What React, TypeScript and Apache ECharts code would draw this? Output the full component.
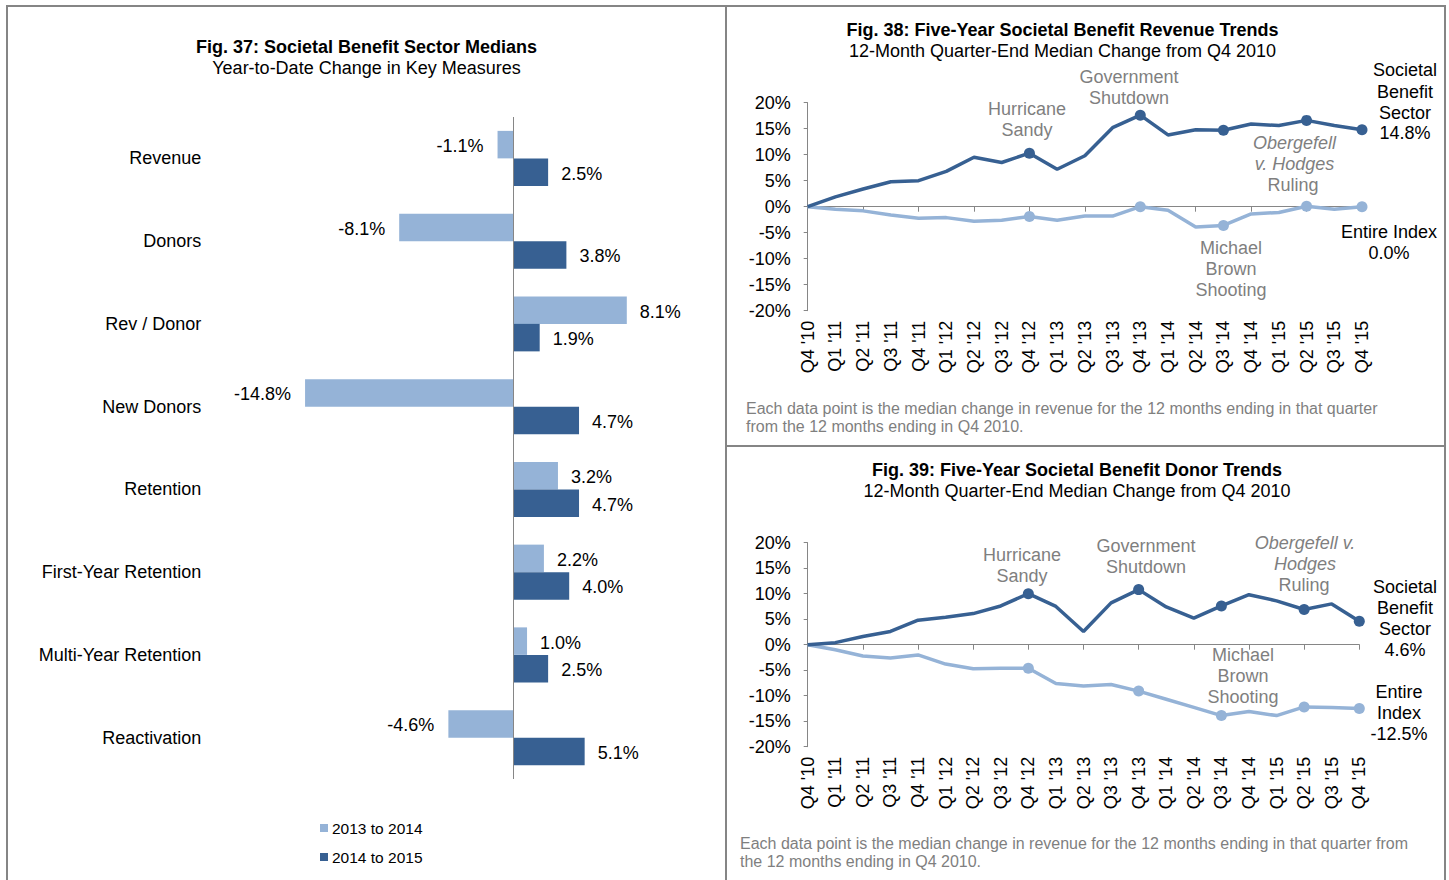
import { useEffect, useRef } from 'react';
import * as echarts from 'echarts';

// ---------- data ----------
const measures = [
  'Revenue',
  'Donors',
  'Rev / Donor',
  'New Donors',
  'Retention',
  'First-Year Retention',
  'Multi-Year Retention',
  'Reactivation',
];
const change2013to2014 = [-1.1, -8.1, 8.1, -14.8, 3.2, 2.2, 1.0, -4.6];
const change2014to2015 = [2.5, 3.8, 1.9, 4.7, 4.7, 4.0, 2.5, 5.1];
const barSeriesNames = ['2013 to 2014', '2014 to 2015'];

const quarters = [
  "Q4 '10", "Q1 '11", "Q2 '11", "Q3 '11", "Q4 '11",
  "Q1 '12", "Q2 '12", "Q3 '12", "Q4 '12",
  "Q1 '13", "Q2 '13", "Q3 '13", "Q4 '13",
  "Q1 '14", "Q2 '14", "Q3 '14", "Q4 '14",
  "Q1 '15", "Q2 '15", "Q3 '15", "Q4 '15",
];
const revenueSector = [0, 1.9, 3.4, 4.8, 5.0, 6.8, 9.5, 8.5, 10.3, 7.2, 9.8, 15.2, 17.6, 13.8, 14.8, 14.7, 15.9, 15.6, 16.6, 15.6, 14.8];
const revenueIndex = [0, -0.5, -0.8, -1.6, -2.2, -2.1, -2.8, -2.6, -1.9, -2.6, -1.8, -1.8, 0, -0.7, -3.9, -3.6, -1.4, -1.1, 0.1, -0.5, 0.0];
const donorSector = [0, 0.4, 1.6, 2.6, 4.8, 5.4, 6.1, 7.6, 10.0, 7.5, 2.6, 8.2, 10.8, 7.4, 5.2, 7.6, 9.8, 8.6, 6.9, 8.0, 4.6];
const donorIndex = [0, -1.0, -2.2, -2.6, -2.0, -3.8, -4.7, -4.6, -4.6, -7.6, -8.1, -7.8, -9.1, -10.7, -12.3, -13.9, -13.1, -13.9, -12.2, -12.3, -12.5];
const markedQuarters = ["Q4 '12", "Q4 '13", "Q3 '14", "Q2 '15", "Q4 '15"];
const lineAxisMin = -20;
const lineAxisMax = 20;
const lineAxisInterval = 5;

// ---------- styles ----------
const DARK = '#376092';
const LIGHT = '#95B3D7';
const AXIS = '#868686';
const NOTE = '#7f7f7f';
const BORDER = '#858585';
const FONT = '"Liberation Sans", Arial, Helvetica, sans-serif';

const withMarkers = (values: number[]) =>
  values.map((v, i) =>
    markedQuarters.includes(quarters[i])
      ? { value: v, symbol: 'circle', symbolSize: 11 }
      : { value: v, symbol: 'none' }
  );

const pct1 = (v: number) => `${v.toFixed(1)}%`;

const txt = (
  text: string,
  x: number,
  y: number,
  opts: { size?: number; weight?: string; color?: string; align?: string; italic?: boolean } = {}
) => ({
  type: 'text',
  x,
  y,
  silent: true,
  style: {
    text,
    fontFamily: FONT,
    fontSize: opts.size ?? 18,
    fontWeight: opts.weight ?? 'normal',
    fontStyle: opts.italic ? 'italic' : 'normal',
    fill: opts.color ?? '#000',
    align: opts.align ?? 'center',
    verticalAlign: 'middle',
  },
});

const ln = (x1: number, y1: number, x2: number, y2: number) => ({
  type: 'line',
  silent: true,
  shape: { x1, y1, x2, y2 },
  style: { stroke: BORDER, lineWidth: 2 },
});

function lineAxes(gridIndex: number) {
  const zeroAxis = {
    type: 'category',
    gridIndex,
    data: quarters,
    boundaryGap: false,
    position: 'bottom',
    axisLine: { show: true, onZero: true, lineStyle: { color: AXIS, width: 1 } },
    axisTick: { show: true, length: 5, lineStyle: { color: AXIS } },
    axisLabel: { show: false },
    splitLine: { show: false },
  };
  const labelAxis = {
    type: 'category',
    gridIndex,
    data: quarters,
    boundaryGap: false,
    position: 'bottom',
    axisLine: { show: false, onZero: false },
    axisTick: { show: false },
    axisLabel: { show: true, rotate: 90, margin: 10, fontSize: 18, color: '#000', fontFamily: FONT, interval: 0 },
    splitLine: { show: false },
  };
  const yAxis = {
    type: 'value',
    gridIndex,
    min: lineAxisMin,
    max: lineAxisMax,
    interval: lineAxisInterval,
    axisLine: { show: true, lineStyle: { color: AXIS, width: 1 } },
    axisTick: { show: true, length: 4, lineStyle: { color: AXIS } },
    axisLabel: { formatter: '{value}%', fontSize: 18, color: '#000', margin: 17, fontFamily: FONT },
    splitLine: { show: false },
  };
  return { zeroAxis, labelAxis, yAxis };
}

export default function App() {
  const ref = useRef<HTMLDivElement>(null);

  useEffect(() => {
    if (!ref.current) return;
    const chart = echarts.init(ref.current, undefined, { renderer: 'svg' });

    const a38 = lineAxes(1);
    const a39 = lineAxes(2);

    const lineSeries = (name: string, data: number[], color: string, x: number, y: number, z: number) => ({
      type: 'line',
      name,
      xAxisIndex: x,
      yAxisIndex: y,
      data: withMarkers(data),
      symbol: 'circle',
      symbolSize: 11,
      showSymbol: true,
      smooth: false,
      z,
      lineStyle: { color, width: 3.5 },
      itemStyle: { color },
      emphasis: { disabled: true },
    });

    const barLabel = (values: number[]) =>
      values.map((v) => ({
        value: v,
        label: { position: v < 0 ? 'left' : 'right', distance: v < 0 ? 14 : 13 },
      }));

    const last = quarters.length - 1;

    const barValueLabel = {
      show: true,
      formatter: (p: any) => pct1(p.value),
      fontSize: 18,
      color: '#000',
      fontFamily: FONT,
      offset: [0, 1.5],
    };

    const option = {
      animation: false,
      textStyle: { fontFamily: FONT },
      grid: [
        { left: 288.2, top: 117, width: 393.4, height: 662 },
        { left: 807.7, top: 102.7, width: 554.3, height: 208 },
        { left: 807.7, top: 542.7, width: 551.6, height: 204 },
      ],
      legend: {
        data: barSeriesNames,
        orient: 'vertical',
        left: 315,
        top: 815,
        icon: 'rect',
        itemWidth: 8,
        itemHeight: 8,
        itemGap: 13,
        selectedMode: false,
        textStyle: { fontSize: 15.5, color: '#000', fontFamily: FONT, padding: [0, 0, 0, -1] },
      },
      xAxis: [
        {
          type: 'value',
          gridIndex: 0,
          min: -16,
          max: 12,
          show: false,
          splitLine: { show: false },
        },
        a38.zeroAxis,
        a38.labelAxis,
        a39.zeroAxis,
        a39.labelAxis,
      ],
      yAxis: [
        {
          type: 'category',
          gridIndex: 0,
          data: measures,
          inverse: true,
          axisLine: { show: false, onZero: false },
          axisTick: { show: false },
          axisLabel: { margin: 87, fontSize: 18, color: '#000', fontFamily: FONT },
        },
        a38.yAxis,
        a39.yAxis,
      ],
      series: [
        {
          type: 'bar',
          name: barSeriesNames[0],
          xAxisIndex: 0,
          yAxisIndex: 0,
          data: barLabel(change2013to2014),
          barWidth: 27.5,
          barGap: '0%',
          itemStyle: { color: LIGHT },
          label: barValueLabel,
          markLine: {
            silent: true,
            symbol: ['none', 'none'],
            label: { show: false },
            lineStyle: { color: AXIS, width: 1, type: 'solid' },
            data: [{ xAxis: 0 }],
          },
          emphasis: { disabled: true },
        },
        {
          type: 'bar',
          name: barSeriesNames[1],
          xAxisIndex: 0,
          yAxisIndex: 0,
          data: barLabel(change2014to2015),
          barWidth: 27.5,
          barGap: '0%',
          itemStyle: { color: DARK },
          label: barValueLabel,
          emphasis: { disabled: true },
        },
        lineSeries('Revenue: Entire Index', revenueIndex, LIGHT, 1, 1, 2),
        lineSeries('Revenue: Societal Benefit Sector', revenueSector, DARK, 1, 1, 3),
        lineSeries('Donors: Entire Index', donorIndex, LIGHT, 3, 2, 2),
        lineSeries('Donors: Societal Benefit Sector', donorSector, DARK, 3, 2, 3),
      ],
      graphic: [
        // panel borders
        ln(6, 6, 1446, 6),
        ln(7, 6, 7, 880),
        ln(726, 6, 726, 880),
        ln(1445, 6, 1445, 880),
        ln(726, 446, 1446, 446),

        // Fig. 37 titles
        txt('Fig. 37: Societal Benefit Sector Medians', 366.5, 47, { weight: 'bold' }),
        txt('Year-to-Date Change in Key Measures', 366.5, 68),

        // Fig. 38 titles
        txt('Fig. 38: Five-Year Societal Benefit Revenue Trends', 1062.5, 30, { weight: 'bold' }),
        txt('12-Month Quarter-End Median Change from Q4 2010', 1062.5, 51),
        // Fig. 38 annotations
        txt('Hurricane', 1027, 109, { color: NOTE }),
        txt('Sandy', 1027, 130, { color: NOTE }),
        txt('Government', 1129, 77, { color: NOTE }),
        txt('Shutdown', 1129, 98, { color: NOTE }),
        txt('Obergefell', 1294.5, 143, { color: NOTE, italic: true }),
        txt('v. Hodges', 1294.5, 164, { color: NOTE, italic: true }),
        txt('Ruling', 1293, 185, { color: NOTE }),
        txt('Michael', 1231, 248, { color: NOTE }),
        txt('Brown', 1231, 269, { color: NOTE }),
        txt('Shooting', 1231, 290, { color: NOTE }),
        txt('Societal', 1405, 70),
        txt('Benefit', 1405, 91.5),
        txt('Sector', 1405, 112.5),
        txt(pct1(revenueSector[last]), 1405, 133),
        txt('Entire Index', 1389, 232),
        txt(pct1(revenueIndex[last]), 1389, 253),
        txt('Each data point is the median change in revenue for the 12 months ending in that quarter', 746, 408, { size: 16, color: NOTE, align: 'left' }),
        txt('from the 12 months ending in Q4 2010.', 746, 426, { size: 16, color: NOTE, align: 'left' }),

        // Fig. 39 titles
        txt('Fig. 39: Five-Year Societal Benefit Donor Trends', 1077, 470, { weight: 'bold' }),
        txt('12-Month Quarter-End Median Change from Q4 2010', 1077, 491),
        // Fig. 39 annotations
        txt('Hurricane', 1022, 554.5, { color: NOTE }),
        txt('Sandy', 1022, 575.5, { color: NOTE }),
        txt('Government', 1146, 546, { color: NOTE }),
        txt('Shutdown', 1146, 567, { color: NOTE }),
        txt('Obergefell v.', 1305, 543, { color: NOTE, italic: true }),
        txt('Hodges', 1305, 564, { color: NOTE, italic: true }),
        txt('Ruling', 1304, 585, { color: NOTE }),
        txt('Michael', 1243, 655, { color: NOTE }),
        txt('Brown', 1243, 676, { color: NOTE }),
        txt('Shooting', 1243, 697, { color: NOTE }),
        txt('Societal', 1405, 587),
        txt('Benefit', 1405, 608),
        txt('Sector', 1405, 629),
        txt(pct1(donorSector[last]), 1405, 650),
        txt('Entire', 1399, 692),
        txt('Index', 1399, 713),
        txt(pct1(donorIndex[last]), 1399, 733.5),
        txt('Each data point is the median change in revenue for the 12 months ending in that quarter from', 740, 843, { size: 16, color: NOTE, align: 'left' }),
        txt('the 12 months ending in Q4 2010.', 740, 861, { size: 16, color: NOTE, align: 'left' }),
      ],
    };

    chart.setOption(option as any);
    return () => chart.dispose();
  }, []);

  return (
    <div
      ref={ref}
      style={{ position: 'fixed', left: 0, top: 0, width: 1449, height: 880, background: '#fff' }}
    />
  );
}
